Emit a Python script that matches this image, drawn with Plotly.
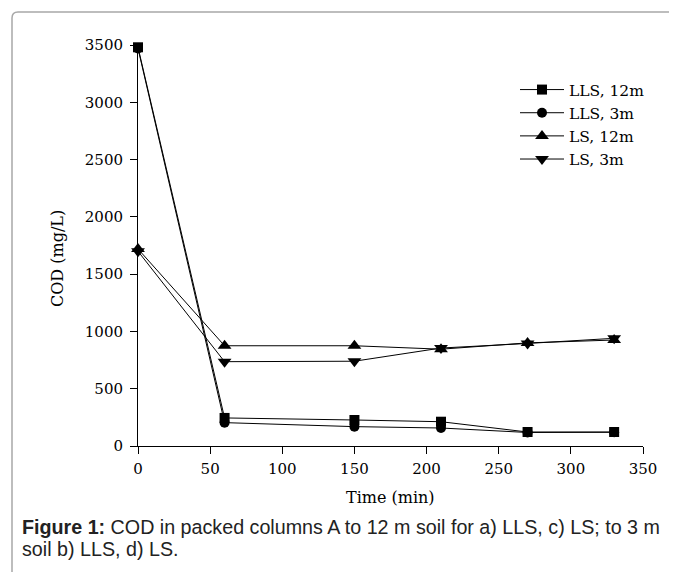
import plotly.graph_objects as go

time_min = [0, 60, 150, 210, 270, 330]
lls_12m = [3480, 245, 227, 212, 122, 122]
lls_3m = [3470, 204, 169, 157, 118, 120]
ls_12m = [1720, 875, 875, 845, 900, 925]
ls_3m = [1700, 736, 740, 855, 895, 940]

series = [
    ("LLS, 12m", lls_12m, "square", 10),
    ("LLS, 3m", lls_3m, "circle", 10),
    ("LS, 12m", ls_12m, "triangle-up", 12),
    ("LS, 3m", ls_3m, "triangle-down", 12),
]

fig = go.Figure()
for name, vals, sym, sz in series:
    fig.add_trace(go.Scatter(
        x=time_min, y=vals, name=name, mode="lines+markers",
        line=dict(color="black", width=1),
        marker=dict(symbol=sym, size=sz, color="black"),
        cliponaxis=False,
    ))

serif = "DejaVu Serif"
OFF = 8  # page body margin
W, H = 669, 564
L, R, T, B = 130, 34, 37, 126
pw, ph = W - L - R, H - T - B

def px(xw):
    return (xw - OFF - L) / pw

def py(yw):
    return (H - B - (yw - OFF)) / ph

x0, x1 = px(12), px(690)
y0, y1 = py(590), py(12)
rx, ry = 6 / pw, 6 / ph
border = f"M {x0},{y0} L {x0},{y1 - ry} Q {x0},{y1} {x0 + rx},{y1} L {x1},{y1}"

fig.update_layout(
    width=W, height=H,
    margin=dict(l=L, r=R, t=T, b=B),
    paper_bgcolor="white", plot_bgcolor="white",
    font=dict(family=serif, size=15, color="black"),
    showlegend=True,
    legend=dict(x=px(515), y=py(73), xanchor="left", yanchor="top",
                bgcolor="rgba(0,0,0,0)", font=dict(family=serif, size=15.5),
                tracegroupgap=0, itemwidth=44),
    xaxis=dict(range=[0, 350], tickvals=[0, 50, 100, 150, 200, 250, 300, 350],
               showline=True, linecolor="black", linewidth=1,
               ticks="outside", ticklen=7, tickcolor="black", showgrid=False,
               zeroline=False, tickfont=dict(family=serif, size=15),
               ticklabelstandoff=2),
    yaxis=dict(range=[0, 3500], tickvals=[0, 500, 1000, 1500, 2000, 2500, 3000, 3500],
               showline=True, linecolor="black", linewidth=1,
               ticks="outside", ticklen=7, tickcolor="black", showgrid=False,
               zeroline=False, tickfont=dict(family=serif, size=15),
               ticklabelstandoff=4),
    shapes=[dict(type="path", xref="paper", yref="paper", path=border,
                 line=dict(color="#a8a8a8", width=1.5))],
    annotations=[
        dict(xref="paper", yref="paper", x=px(390), y=py(497), xanchor="center",
             yanchor="middle", showarrow=False, text="Time (min)",
             font=dict(family=serif, size=16)),
        dict(xref="paper", yref="paper", x=px(57), y=py(259), xanchor="center",
             yanchor="middle", showarrow=False, text="COD (mg/L)", textangle=-90,
             font=dict(family=serif, size=16)),
        dict(xref="paper", yref="paper", x=px(20), y=py(527), xanchor="left",
             yanchor="middle", showarrow=False,
             text="<b>Figure 1:</b> COD in packed columns A to 12 m soil for a) LLS, c) LS; to 3 m",
             font=dict(family="Liberation Sans", size=19.7, color="#222")),
        dict(xref="paper", yref="paper", x=px(20), y=py(549), xanchor="left",
             yanchor="middle", showarrow=False,
             text="soil b) LLS, d) LS.",
             font=dict(family="Liberation Sans", size=19.7, color="#222")),
    ],
)

fig.write_html("out.html")
